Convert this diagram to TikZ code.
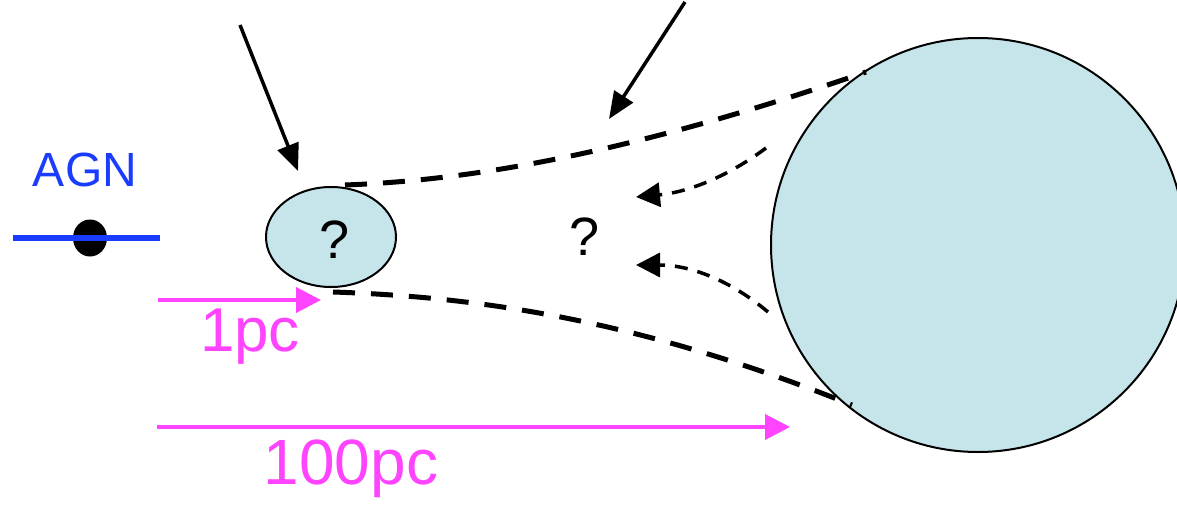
\documentclass[tikz,border=0pt]{standalone}
\usepackage{fontspec}
\setmainfont{Liberation Sans}
\usetikzlibrary{arrows.meta,shapes.geometric}
\definecolor{cloud}{HTML}{C6E5EA}
\definecolor{agnblue}{HTML}{1A3CFF}
\definecolor{mag}{HTML}{FF44FF}
\tikzset{
  x=1pt,y=-1pt,
  flow/.style={line width=5pt, dash pattern=on 22pt off 16pt},
  inflow/.style={line width=3.5pt, dash pattern=on 13pt off 10pt, -{Triangle[length=24pt,width=24pt]}},
  pointer/.style={line width=3.5pt, -{Triangle[length=27pt,width=22pt]}},
  scalearrow/.style={mag, line width=4pt, -{Triangle[length=25pt,width=25pt]}},
  lbl/.style={inner sep=0pt, font=\fontsize{58}{60}\selectfont},
}
\begin{document}
\begin{tikzpicture}
\useasboundingbox (0,0) rectangle (1177,505);
\clip (0,0) rectangle (1177,505);
% big cloud
\node[circle, draw, fill=cloud, line width=2pt, minimum size=414pt, inner sep=0pt] (big) at (978,245) {};
% small cloud
\node[ellipse, draw, fill=cloud, line width=2pt, minimum width=130pt, minimum height=100pt, inner sep=0pt] (small) at (331,237) {};
\node[lbl, font=\fontsize{54}{56}\selectfont] (q1) at (335,240) {?};
\node[lbl, font=\fontsize{54}{56}\selectfont] (q2) at (585,237) {?};
% AGN
\node[lbl, text=agnblue, font=\fontsize{48}{50}\selectfont] (agnlabel) at (85,170) {AGN};
\coordinate (agnL) at (13,238);
\coordinate (agnR) at (160,238);
\node[ellipse, fill=black, minimum width=34pt, minimum height=37pt, inner sep=0pt] (agn) at (90,238) {};
\draw[agnblue, line width=5.5pt] (agnL) -- (agnR);
% flow boundaries
\coordinate (uS) at (345,185);
\coordinate (uE) at (866,72);
\coordinate (lS) at (333,292);
\coordinate (lE) at (852,405);
\draw[flow] (uS) .. controls (480,180) and (640,150) .. (uE);
\draw[flow] (lS) .. controls (480,297) and (640,320) .. (lE);
% inflow arrows
\coordinate (i1S) at (766,148);
\coordinate (i1E) at (636,197);
\coordinate (i2S) at (768,312);
\coordinate (i2E) at (636,265);
\draw[inflow] (i1S) .. controls (730,175) and (690,192) .. (i1E);
\draw[inflow] (i2S) .. controls (730,280) and (690,265) .. (i2E);
% pointer arrows
\coordinate (p1S) at (240,25);
\coordinate (p1E) at (298,171);
\coordinate (p2S) at (685,2);
\coordinate (p2E) at (609,119);
\draw[pointer] (p1S) -- (p1E);
\draw[pointer] (p2S) -- (p2E);
% scales
\coordinate (s1S) at (158,300);
\coordinate (s1E) at (321,300);
\coordinate (s2S) at (157,427);
\coordinate (s2E) at (790,427);
\draw[scalearrow] (s1S) -- (s1E);
\draw[scalearrow] (s2S) -- (s2E);
\node[lbl, text=mag, font=\fontsize{62}{64}\selectfont] (l1) at (250,337) {1pc};
\node[lbl, text=mag, font=\fontsize{64}{66}\selectfont] (l2) at (351,469) {100pc};
\end{tikzpicture}
\end{document}
